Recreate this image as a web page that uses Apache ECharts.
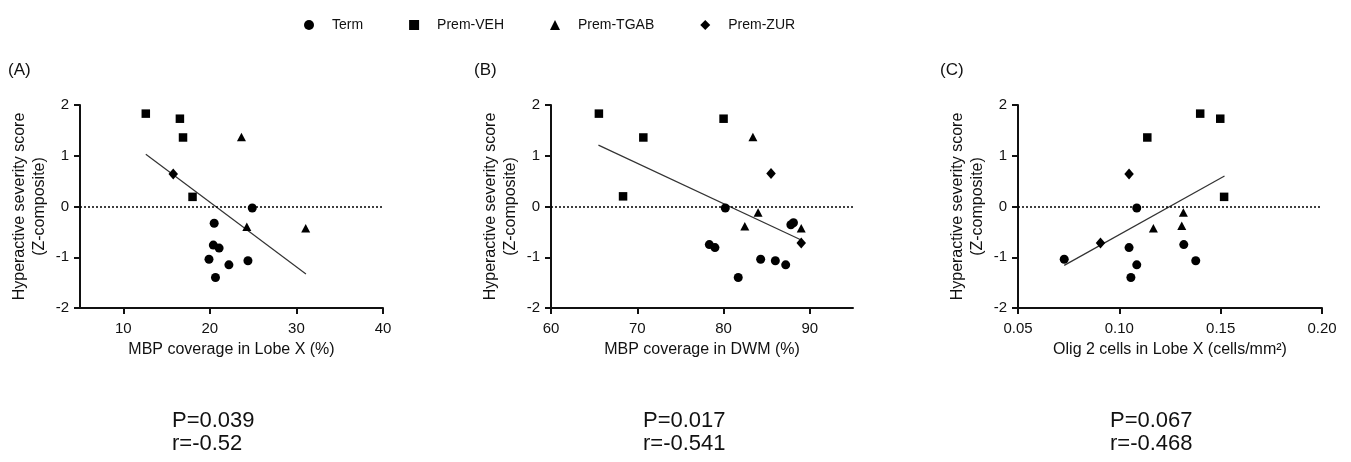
<!DOCTYPE html>
<html>
<head>
<meta charset="utf-8">
<script src="https://cdn.jsdelivr.net/npm/echarts@6/dist/echarts.min.js"></script>
<style>html,body{margin:0;padding:0;background:#fff;}#c{width:1351px;height:462px;}</style>
</head>
<body>
<div id="c"></div>
<script>
// ---------- data ----------
const groups = ['Term', 'Prem-VEH', 'Prem-TGAB', 'Prem-ZUR'];

// Panel A: MBP coverage in Lobe X (%)
const termA = [[24.9,-0.03],[20.5,-0.33],[20.4,-0.76],[21.07,-0.82],[19.9,-1.04],[22.2,-1.15],[24.4,-1.07],[20.65,-1.40]];
const vehA  = [[12.6,1.83],[16.54,1.73],[16.9,1.36],[18.0,0.19]];
const tgabA = [[23.65,1.37],[24.27,-0.40],[31.07,-0.43]];
const zurA  = [[15.77,0.64]];
const fitA  = [[12.6,1.03],[31.1,-1.33]];

// Panel B: MBP coverage in DWM (%)
const termB = [[80.2,-0.03],[78.35,-0.75],[79.0,-0.81],[84.3,-1.04],[86.0,-1.07],[87.2,-1.15],[81.7,-1.40],[87.8,-0.36],[88.1,-0.32]];
const vehB  = [[65.55,1.83],[70.7,1.36],[80.0,1.73],[68.35,0.20]];
const tgabB = [[83.4,1.37],[84.0,-0.12],[82.46,-0.39],[89.0,-0.43]];
const zurB  = [[85.5,0.65],[89.0,-0.72]];
const fitB  = [[65.5,1.21],[89.0,-0.66]];

// Panel C: Olig 2 cells in Lobe X (cells/mm2)
const termC = [[0.1086,-0.03],[0.0728,-1.04],[0.1048,-0.81],[0.1086,-1.15],[0.1057,-1.40],[0.1318,-0.75],[0.1377,-1.07]];
const vehC  = [[0.1399,1.83],[0.1498,1.73],[0.1138,1.36],[0.1517,0.19]];
const tgabC = [[0.1168,-0.43],[0.1316,-0.12],[0.1308,-0.38]];
const zurC  = [[0.1048,0.64],[0.0907,-0.72]];
const fitC  = [[0.0728,-1.16],[0.1519,0.60]];

const xTicksA = [10, 20, 30, 40];
const xTicksB = [60, 70, 80, 90];
const xTicksC = [0.05, 0.10, 0.15, 0.20];

const panelLabels = ['(A)', '(B)', '(C)'];
const xTitles = ['MBP coverage in Lobe X (%)', 'MBP coverage in DWM (%)', 'Olig 2 cells in Lobe X (cells/mm\u00B2)'];
const yTitle = 'Hyperactive severity score\n(Z-composite)';
const stats = ['P=0.039\nr=-0.52', 'P=0.017\nr=-0.541', 'P=0.067\nr=-0.468'];

// ---------- chart ----------
const FONT = '"Liberation Sans", Arial, Helvetica, sans-serif';
const INK = '#111';

const panels = [
  {grid:{left:80, top:105, width:303, height:203}, min:5, max:40, ticks:xTicksA, dec:0,
   sets:[termA, vehA, tgabA, zurA], fit:fitA, labelX:8, statX:172},
  {grid:{left:551, top:105, width:302, height:203}, min:60, max:95, ticks:xTicksB, dec:0,
   sets:[termB, vehB, tgabB, zurB], fit:fitB, labelX:474, statX:643},
  {grid:{left:1018, top:105, width:304, height:203}, min:0.05, max:0.20, ticks:xTicksC, dec:2,
   sets:[termC, vehC, tgabC, zurC], fit:fitC, labelX:940, statX:1110}
];

const symbols = ['circle', 'rect', 'triangle', 'diamond'];
const symSizes = [9, 8.5, [9, 8.5], [9.5, 11]];

const axisLine = {show:true, onZero:false, lineStyle:{color:INK, width:2}};

const grids = [], xAxes = [], yAxes = [], series = [], titles = [];
panels.forEach((p, i) => {
  grids.push(p.grid);
  xAxes.push({
    type:'value', gridIndex:i, min:p.min, max:p.max,
    name:xTitles[i], nameLocation:'middle', nameGap:34,
    nameTextStyle:{fontFamily:FONT, fontSize:16, color:INK},
    axisLine:axisLine,
    axisTick:{show:true, length:6, inside:false, customValues:p.ticks, lineStyle:{color:INK, width:2}},
    axisLabel:{show:true, customValues:p.ticks, margin:13, fontFamily:FONT, fontSize:15, color:INK,
      formatter:v => Number(v).toFixed(p.dec)},
    splitLine:{show:false}
  });
  yAxes.push({
    type:'value', gridIndex:i, min:-2, max:2, interval:1,
    name:yTitle, nameLocation:'middle', nameGap:30,
    nameTextStyle:{fontFamily:FONT, fontSize:16, lineHeight:20, color:INK},
    axisLine:axisLine,
    axisTick:{show:true, length:6, inside:false, lineStyle:{color:INK, width:2}},
    axisLabel:{margin:11, fontFamily:FONT, fontSize:15, color:INK},
    splitLine:{show:false}
  });
  p.sets.forEach((d, g) => {
    series.push({
      type:'scatter', name:groups[g], xAxisIndex:i, yAxisIndex:i,
      symbol:symbols[g], symbolSize:symSizes[g],
      itemStyle:{color:'#000', opacity:1}, data:d, z:5
    });
  });
  series.push({
    type:'line', name:'fit' + i, xAxisIndex:i, yAxisIndex:i,
    data:p.fit, symbol:'none', silent:true,
    lineStyle:{color:'#333', width:1.2}, z:3,
    markLine:{silent:true, symbol:'none', label:{show:false},
      lineStyle:{color:'#000', width:1.5, type:[2, 2]},
      data:[{yAxis:0}]}
  });
  titles.push({text:panelLabels[i], left:p.labelX, top:62, padding:0,
    textStyle:{fontFamily:FONT, fontSize:17, fontWeight:'normal', color:INK}});
  titles.push({text:stats[i], left:p.statX, top:409, padding:0,
    textStyle:{fontFamily:FONT, fontSize:22, lineHeight:23, fontWeight:'normal', color:INK}});
});

const chart = echarts.init(document.getElementById('c'), null, {renderer:'canvas'});
chart.setOption({
  animation:false,
  backgroundColor:'#fff',
  title:titles,
  legend:{
    data:groups, left:299, top:13, itemWidth:10, itemHeight:10, itemGap:46,
    itemStyle:{opacity:1},
    textStyle:{fontFamily:FONT, fontSize:14, color:INK, padding:[0,0,0,13]}
  },
  grid:grids, xAxis:xAxes, yAxis:yAxes, series:series
});
</script>
</body>
</html>
